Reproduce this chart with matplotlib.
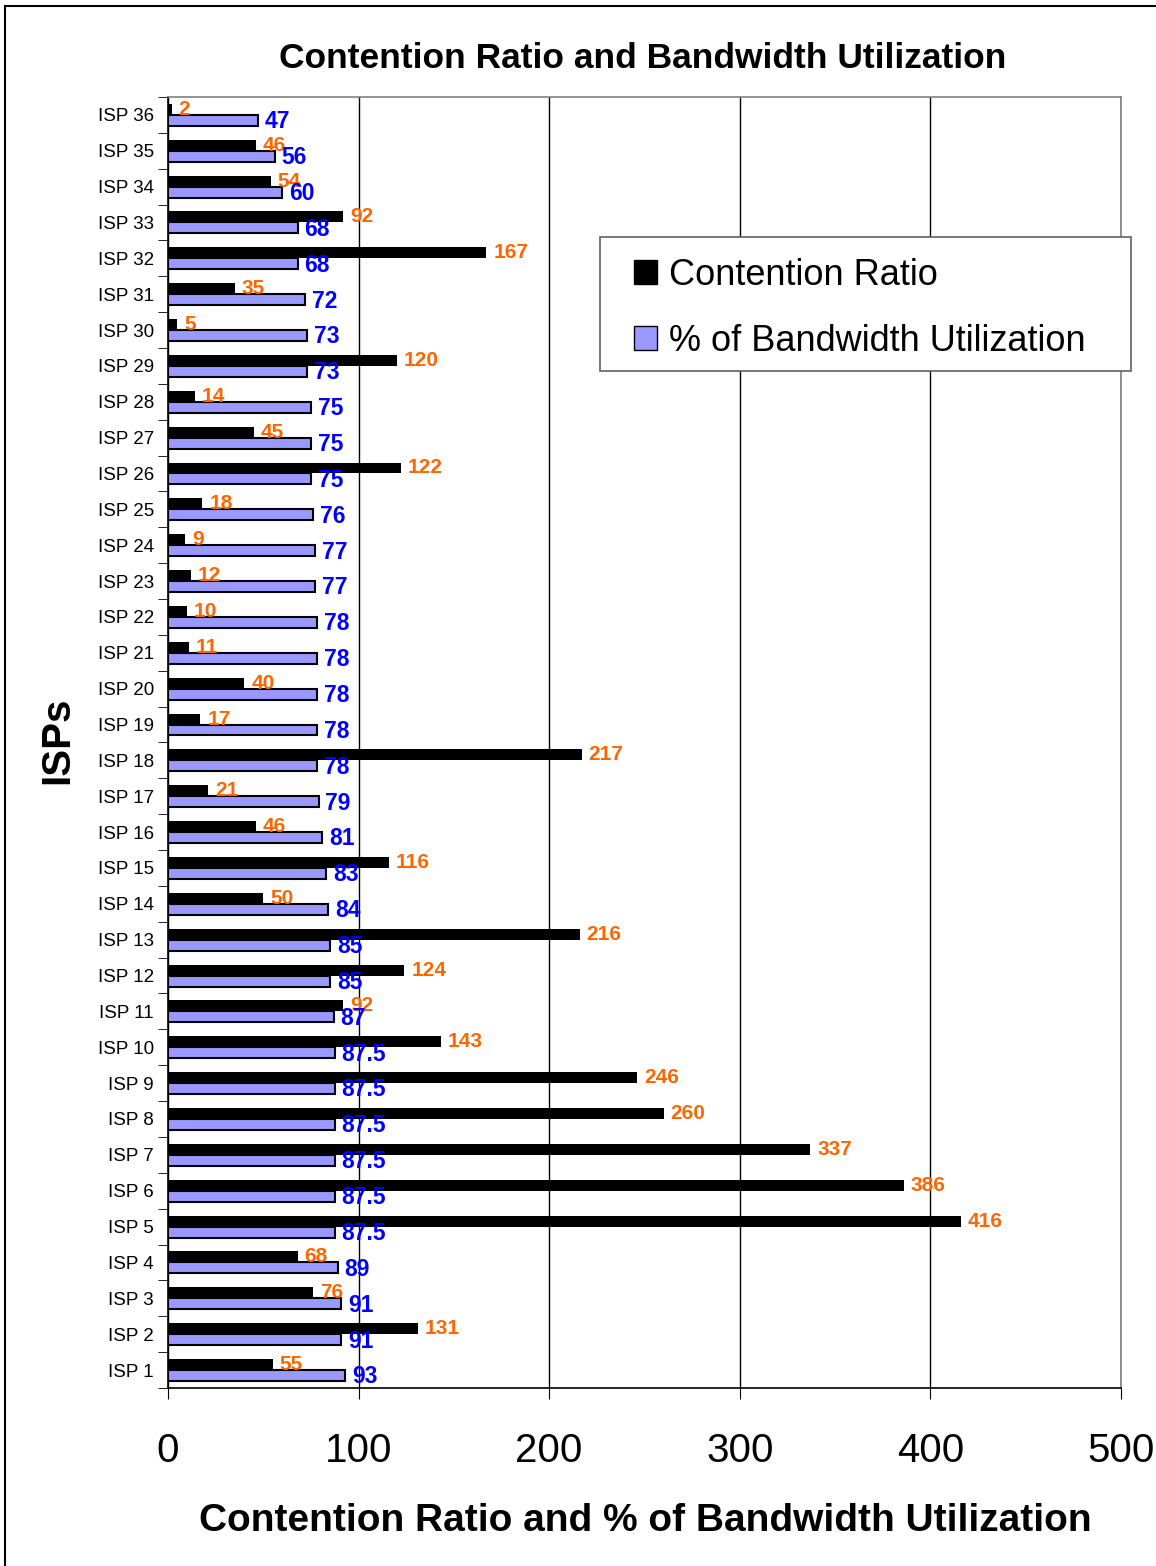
import numpy as np
import matplotlib
matplotlib.use('Agg')
import matplotlib.pyplot as plt
from matplotlib.patches import Rectangle, Patch

plt.rcParams['font.family'] = ['Liberation Sans', 'DejaVu Sans']

isps = ['ISP %d' % i for i in range(1, 37)]
contention = [55, 131, 76, 68, 416, 386, 337, 260, 246, 143, 92, 124, 216, 50, 116, 46,
              21, 217, 17, 40, 11, 10, 12, 9, 18, 122, 45, 14, 120, 5, 35, 167, 92, 54, 46, 2]
bandwidth = [93, 91, 91, 89, 87.5, 87.5, 87.5, 87.5, 87.5, 87.5, 87, 85, 85, 84, 83, 81,
             79, 78, 78, 78, 78, 78, 77, 77, 76, 75, 75, 75, 73, 73, 72, 68, 68, 60, 56, 47]

fig = plt.figure(figsize=(11.56, 15.66), dpi=100)
ax = fig.add_axes([0.1453, 0.1137, 0.8244, 0.8244])

y = np.arange(1, 37)
h = 0.306
ax.barh(y + h / 2, contention, height=h, color='black', zorder=3)
ax.barh(y - h / 2, bandwidth, height=h, color='#9999FF', edgecolor='black', linewidth=1.5, zorder=3)

for yi, c, b in zip(y, contention, bandwidth):
    ax.annotate(str(c), (c, yi + h / 2), xytext=(5, 0), textcoords='offset points',
                va='center', ha='left', color='#FF6600', fontsize=15, fontweight='bold', zorder=4)
    ax.annotate('%g' % b, (b, yi - h / 2), xytext=(5, -1), textcoords='offset points',
                va='center', ha='left', color='#0000FF', fontsize=16.5, fontweight='bold', zorder=4)

ax.set_xlim(0, 500)
ax.set_ylim(0.5, 36.5)
ax.set_xticks([0, 100, 200, 300, 400, 500])
ax.tick_params(axis='x', labelsize=29, direction='out', length=8, pad=24)
ax.set_yticks(y)
ax.set_yticklabels(isps)
ax.set_yticks(np.arange(0.5, 37, 1), minor=True)
ax.tick_params(axis='y', which='major', length=0, labelsize=13.5, pad=10)
ax.tick_params(axis='y', which='minor', length=7, direction='out')
ax.grid(axis='x', color='black', linewidth=1, zorder=0)
ax.spines['top'].set_color('#808080')
ax.spines['right'].set_color('#808080')
for s in ax.spines.values():
    s.set_linewidth(1.2)

fig.text(0.556, 1 - 59 / 1566, 'Contention Ratio and Bandwidth Utilization',
         ha='center', va='center', fontsize=25.5, fontweight='bold')
fig.text(0.558, 1 - 1521 / 1566, 'Contention Ratio and % of Bandwidth Utilization',
         ha='center', va='center', fontsize=28, fontweight='bold')
fig.text(57 / 1156, 1 - 740 / 1566, 'ISPs', rotation=90,
         ha='center', va='center', fontsize=29, fontweight='bold')

# legend frame drawn separately, legend itself without frame
fig.patches.append(Rectangle((600 / 1156, 1 - 371 / 1566), 531 / 1156, 134 / 1566,
                             transform=fig.transFigure, facecolor='white', edgecolor='#606060',
                             linewidth=1.2, zorder=5))
handles = [Patch(facecolor='black', edgecolor='black', label='Contention Ratio'),
           Patch(facecolor='#9999FF', edgecolor='black', label='% of Bandwidth Utilization')]
leg = fig.legend(handles=handles, loc='upper left', bbox_to_anchor=(634 / 1156, 1 - 258 / 1566),
                 fontsize=26, frameon=False,
                 handlelength=0.64, handleheight=0.64, handletextpad=0.33,
                 labelspacing=0.85, borderpad=0, borderaxespad=0)
leg.set_zorder(6)

fig.patches.append(Rectangle((5 / 1156, -0.1), 2, 1 - 6 / 1566 + 0.1,
                             transform=fig.transFigure, fill=False, edgecolor='black',
                             linewidth=1.5))

fig.savefig('out.png', dpi=100)
